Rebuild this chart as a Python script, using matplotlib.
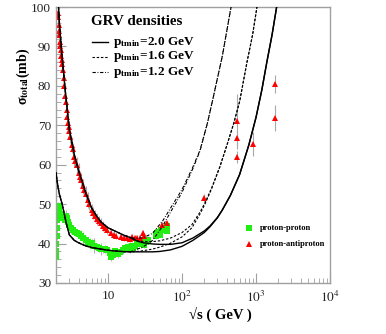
import matplotlib
matplotlib.use("Agg")
import matplotlib.pyplot as plt
from matplotlib.ticker import FixedLocator, NullFormatter, AutoMinorLocator, LogLocator
import numpy as np

plt.rcParams['font.family'] = ['Liberation Serif', 'DejaVu Serif']
plt.rcParams['mathtext.fontset'] = 'stix'

# ---- data: proton-proton total cross section (sqrt(s) GeV, mb, err) ----
pp_x = [2.0, 2.0, 2.01, 2.02, 2.03, 2.04, 2.05, 2.07, 2.1, 2.15, 2.2, 2.25, 2.3, 2.4,
        2.47, 2.6, 2.7, 2.8, 2.9, 3.0, 3.2, 3.4, 3.6, 3.8, 4.0, 4.3, 4.6, 5.0, 5.4,
        5.7, 6.1, 6.5, 7.0, 7.5, 8.0, 8.5, 9.0, 9.7, 10.5, 11.0, 11.5, 12.5, 13.5,
        14.5, 16.0, 17.0, 18.5, 20.0, 21.0, 22.0, 23.0, 25.0, 27.0, 28.0, 30.0,
        31.0, 33.0, 35.0, 44.0, 45.0, 47.0, 50.0, 52.0, 55.0, 58.0, 62.0, 63.0]
pp_y = [36.5, 38.0, 40.0, 42.0, 44.0, 46.0, 47.5, 48.5, 49.0, 48.5, 48.0, 49.5, 47.5, 47.0,
        46.5, 46.0, 47.0, 46.5, 45.5, 44.8, 44.0, 43.5, 43.0, 42.6, 42.5, 42.0, 41.5, 40.8, 40.4,
        40.0, 40.2, 39.5, 39.2, 38.8, 38.7, 38.5, 38.6, 38.3, 37.5, 36.5, 37.0, 38.0, 37.4,
        37.8, 38.3, 39.0, 39.2, 38.5, 39.5, 38.8, 39.5, 40.0, 40.5, 39.8, 40.5,
        39.6, 40.4, 41.0, 41.8, 42.5, 43.0, 42.3, 43.5, 43.8, 44.0, 44.5, 43.2]
pp_err = [1.5, 1.0, 1.0, 1.0, 1.0, 1.0, 1.0, 1.0, 1.5, 1.0, 1.0, 1.0, 1.5, 1.0,
          1.0, 1.0, 1.5, 1.0, 1.0, 1.0, 1.5, 1.0, 1.0, 1.0, 1.0, 1.0, 1.5, 1.0, 1.0,
          1.5, 1.0, 2.0, 1.0, 1.0, 1.5, 1.0, 1.0, 1.0, 1.0, 1.0, 1.0, 1.0, 1.0,
          1.0, 1.0, 1.0, 1.0, 1.0, 1.0, 1.0, 1.0, 1.0, 1.0, 0.8, 0.8,
          0.8, 0.8, 0.8, 0.6, 0.6, 0.6, 0.6, 0.6, 0.6, 0.6, 0.6, 0.6]

# ---- data: proton-antiproton total cross section ----
ppbar_x = [2.11, 2.13, 2.15, 2.18, 2.2, 2.23, 2.26, 2.3, 2.33, 2.36, 2.4, 2.44, 2.5,
           2.55, 2.62, 2.68, 2.75, 2.82, 2.88, 2.95, 3.0, 3.1, 3.26, 3.35, 3.5, 3.6,
           3.75, 4.0, 4.15, 4.3, 4.6, 4.8, 5.0, 5.3, 5.6, 6.0, 6.3, 6.7, 7.1, 7.5,
           8.0, 8.6, 9.2, 9.7, 11.0, 12.0, 13.0, 15.0, 16.5, 18.0, 19.5, 21.0, 23.0,
           25.0, 27.0, 30.0, 31.0, 54.0, 62.0, 200.0, 546.0, 546.0, 546.0, 900.0,
           1800.0, 1800.0]
ppbar_y = [98.5, 97.5, 95.5, 94.0, 93.0, 91.0, 90.0, 89.0, 87.5, 86.5, 85.5, 84.0, 82.0,
           80.0, 77.5, 76.0, 74.0, 72.0, 70.6, 69.5, 68.5, 67.0, 65.0, 64.0, 62.0, 61.0,
           60.0, 58.0, 57.0, 56.0, 54.5, 53.5, 52.5, 51.0, 50.0, 48.5, 47.7, 47.0, 46.3, 45.8,
           45.2, 44.5, 44.0, 43.4, 42.8, 42.3, 42.0, 41.7, 41.5, 41.3, 41.2, 41.6, 41.3,
           41.5, 41.3, 42.6, 41.8, 44.8, 45.2, 51.5, 71.0, 66.8, 61.9, 65.2,
           80.5, 71.8]
ppbar_err = [1.5, 1.5, 1.5, 1.5, 1.5, 1.5, 2.0, 1.5, 1.5, 1.5, 1.5, 2.0, 1.5,
             1.5, 2.0, 1.5, 2.0, 1.5, 2.0, 1.5, 2.0, 1.5, 2.0, 1.5, 2.5, 1.5,
             2.0, 2.5, 1.5, 2.0, 2.0, 1.5, 2.0, 2.0, 1.5, 1.5, 1.5, 1.5, 1.5, 1.2,
             1.2, 1.2, 1.0, 1.0, 1.0, 0.8, 0.8, 0.8, 0.8, 0.8, 0.8, 0.8, 0.8,
             0.8, 0.8, 0.8, 0.8, 0.6, 0.6, 1.0, 7.0, 2.0, 1.5, 3.0,
             2.2, 3.3]

# ---- GRV minijet model curves ----
cx_low = [1.98, 2.1, 2.2, 2.4, 2.7, 3.0, 3.5, 4.0, 5.0, 6.0, 8.0, 10.0, 15.0, 20.0]
pp_low = [58.0, 54.5, 52.5, 50.0, 45.5, 42.2, 40.8, 40.2, 39.4, 39.0, 38.6, 38.3, 38.0, 37.9]
cxb_low = [2.1, 2.2, 2.4, 2.7, 3.0, 3.5, 4.0, 5.0, 6.0, 7.0, 8.0, 10.0, 13.0, 16.0, 20.0]
ppbar_low = [103.0, 96.0, 87.0, 77.0, 69.0, 62.5, 58.5, 52.8, 49.0, 47.0, 45.5, 44.0, 43.0, 42.2, 41.5]

# ptmin = 2.0 GeV
c20_x = [25.0, 30.0, 40.0, 50.0, 70.0, 100.0, 140.0, 200.0, 240.0, 300.0, 350.0, 450.0,
         600.0, 800.0, 1000.0, 1200.0, 1400.0, 1650.0, 1900.0, 2100.0]
c20_pp = [37.9, 37.9, 37.9, 38.0, 38.4, 39.3, 40.8, 42.8, 44.3, 46.5, 48.5, 52.2,
          57.5, 65.0, 72.0, 79.0, 86.0, 93.0, 100.0, 105.0]
c20_pb = [40.6, 40.2, 39.9, 39.8, 39.8, 40.2, 41.4, 43.2, 44.5, 46.6, 48.5, 52.2,
          57.5, 65.0, 72.0, 79.0, 86.0, 93.0, 100.0, 105.0]
# ptmin = 1.6 GeV
c16_x = [25.0, 30.0, 40.0, 50.0, 70.0, 100.0, 136.0, 175.0, 204.0, 250.0, 325.0, 405.0,
         500.0, 600.0, 755.0, 900.0, 1030.0, 1100.0]
c16_pp = [38.0, 38.2, 38.6, 39.1, 40.1, 41.7, 44.0, 47.5, 50.0, 53.8, 59.5, 65.0,
          70.5, 76.0, 86.0, 93.0, 100.0, 103.0]
c16_pb = [40.7, 40.5, 40.5, 40.7, 41.4, 42.8, 44.8, 48.0, 50.3, 54.0, 59.5, 65.0,
          70.5, 76.0, 86.0, 93.0, 100.0, 103.0]
# ptmin = 1.2 GeV
c12_x = [25.0, 30.0, 40.0, 55.0, 70.0, 100.0, 140.0, 175.0, 220.0, 260.0, 350.0, 460.0, 500.0]
c12_pp = [38.6, 39.2, 40.8, 44.5, 48.0, 53.0, 59.0, 63.5, 70.5, 76.5, 87.5, 100.0, 104.0]
c12_pb = [41.3, 41.5, 42.6, 45.8, 49.0, 53.7, 59.4, 63.7, 70.5, 76.5, 87.5, 100.0, 104.0]

fig = plt.figure(figsize=(3.86, 3.34), dpi=100)
ax = fig.add_axes([0.1451, 0.1527, 0.7098, 0.8263])

ax.errorbar(pp_x, pp_y, yerr=pp_err, fmt='none', ecolor='#b4b4b4', elinewidth=0.8, zorder=1)
ax.errorbar(ppbar_x, ppbar_y, yerr=ppbar_err, fmt='none', ecolor='#a8a8a8', elinewidth=0.8, zorder=1)
ax.plot(pp_x, pp_y, 's', color='#22ee11', markersize=4.5, markeredgewidth=0, zorder=2)
ax.plot(ppbar_x, ppbar_y, '^', color='#ff0000', markersize=5, markeredgewidth=0, zorder=2)

dash = (0, (2.2, 1.6))
dashdot = (0, (3, 1.5, 0.8, 1.5))
styles = [('-', 1.0, c20_x, c20_pp, c20_pb),
          (dash, 0.8, c16_x, c16_pp, c16_pb),
          (dashdot, 0.8, c12_x, c12_pp, c12_pb)]
for ls, lw, hx, hpp, hpb in styles:
    ax.plot(cx_low + hx, pp_low + hpp, color='black', linestyle=ls, linewidth=lw, zorder=3)
    ax.plot(cxb_low + hx, ppbar_low + hpb, color='black', linestyle=ls, linewidth=lw, zorder=3)

ax.set_xscale('log')
ax.set_xlim(1.98, 1e4)
ax.set_ylim(30, 100)

ax.xaxis.set_major_locator(FixedLocator([10, 100, 1000, 10000]))
ax.set_xticklabels(['10', r'$10^{2}$', r'$10^{3}$', r'$10^{4}$'])
ax.xaxis.set_minor_locator(LogLocator(base=10, subs=np.arange(2, 10)))
ax.xaxis.set_minor_formatter(NullFormatter())
ax.set_yticks([30, 40, 50, 60, 70, 80, 90, 100])
ax.yaxis.set_minor_locator(AutoMinorLocator(5))

frame_col = '#a0a0a0'
for side in ['left', 'bottom', 'right', 'top']:
    ax.spines[side].set_color(frame_col)
    ax.spines[side].set_linewidth(1.0)
ax.tick_params(which='both', direction='in', colors=frame_col, labelcolor='#222222',
               labelsize=9.5, top=False, right=False)
ax.tick_params(which='major', length=7)
ax.tick_params(which='minor', length=3.5)
ax.tick_params(axis='x', which='major', pad=5)

ax.set_xlabel('√s ( GeV )', fontsize=10.5, fontweight='bold', family=['Liberation Serif', 'DejaVu Sans'])
ax.xaxis.set_label_coords(0.6, -0.085)
fig.text(0.06, 0.77, r'σ$_{\mathbf{total}}$(mb)', rotation=90, fontsize=10, fontweight='bold',
         ha='center', va='center')

# curve legend
ax.text(0.128, 0.946, 'GRV densities', transform=ax.transAxes, fontsize=10.8,
        fontweight='bold', va='center', ha='left')
leg_rows = [(0.873, '-', 1.0, '2.0'), (0.819, dash, 0.8, '1.6'), (0.764, dashdot, 0.8, '1.2')]
for yy, ls, lw, val in leg_rows:
    ax.plot([0.131, 0.190], [yy, yy], transform=ax.transAxes, color='black',
            linestyle=ls, linewidth=lw)
    ax.text(0.208, yy, r'p$_{\mathbf{tmin}}$=' + val + ' GeV', transform=ax.transAxes,
            fontsize=9.5, fontweight='bold', va='center', ha='left')

# data legend
ax.plot([0.704], [0.199], 's', color='#22ee11', markersize=4.5, markeredgewidth=0,
        transform=ax.transAxes)
ax.plot([0.704], [0.141], '^', color='#ff0000', markersize=5, markeredgewidth=0,
        transform=ax.transAxes)
ax.text(0.745, 0.199, 'proton-proton', transform=ax.transAxes, fontsize=6,
        fontweight='bold', va='center', ha='left')
ax.text(0.745, 0.141, 'proton-antiproton', transform=ax.transAxes, fontsize=6,
        fontweight='bold', va='center', ha='left')

fig.savefig('out.png', dpi=100)
